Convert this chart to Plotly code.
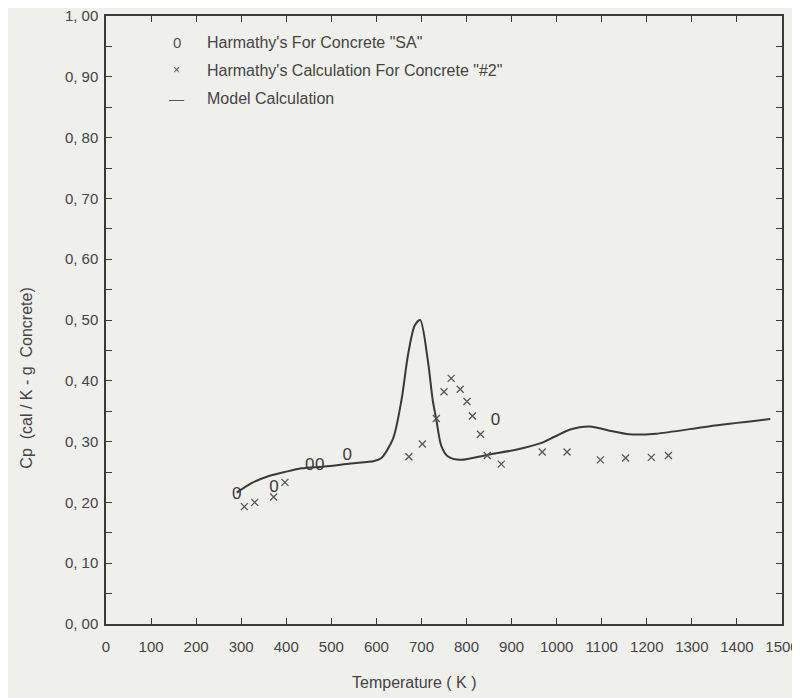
import plotly.graph_objects as go

# ---- data ----
model_T = [290, 324, 360, 397, 434, 485, 543, 595, 611, 637, 656, 670, 685, 697,
           714, 725, 733, 744, 758, 787, 845, 912, 963, 995, 1030, 1073, 1117, 1161,
           1220, 1337, 1474]
model_cp = [0.216, 0.232, 0.243, 0.250, 0.256, 0.259, 0.264, 0.268, 0.273, 0.305,
            0.370, 0.442, 0.491, 0.500, 0.434, 0.368, 0.336, 0.293, 0.276, 0.270,
            0.278, 0.287, 0.297, 0.308, 0.320, 0.325, 0.318, 0.312, 0.313, 0.325, 0.337]

sa_T = [290, 373, 452, 474, 535, 864]
sa_cp = [0.212, 0.224, 0.260, 0.260, 0.276, 0.334]

c2_T = [307, 330, 372, 397, 672, 702, 733, 750, 766, 786, 801, 813, 831, 846,
        877, 968, 1023, 1097, 1153, 1210, 1248]
c2_cp = [0.193, 0.200, 0.209, 0.233, 0.275, 0.296, 0.338, 0.382, 0.404, 0.386,
         0.366, 0.342, 0.312, 0.277, 0.263, 0.283, 0.283, 0.270, 0.273, 0.274, 0.277]

x_ticks = list(range(0, 1501, 100))
x_ticktext = [str(v) for v in x_ticks]
y_ticks = [0.0, 0.1, 0.2, 0.3, 0.4, 0.5, 0.6, 0.7, 0.8, 0.9, 1.0]
y_ticktext = ["0, 00", "0, 10", "0, 20", "0, 30", "0, 40", "0, 50", "0, 60", "0, 70",
              "0, 80", "0, 90", "1, 00"]

legend_labels = ["Harmathy's For Concrete \"SA\"",
                 "Harmathy's Calculation For Concrete \"#2\"",
                 "Model Calculation"]

INK = "#3a3a3a"
BG = "#efefec"
FONT = "Liberation Sans"

fig = go.Figure()
fig.add_trace(go.Scatter(x=model_T, y=model_cp, mode="lines",
                         line=dict(color=INK, width=2, shape="spline", smoothing=0.8),
                         showlegend=False))
fig.add_trace(go.Scatter(x=c2_T, y=c2_cp, mode="markers",
                         marker=dict(symbol="x-thin", size=7, line=dict(color="#555555", width=1.3)),
                         showlegend=False))
fig.add_trace(go.Scatter(x=sa_T, y=sa_cp, mode="text", text=["0"] * len(sa_T),
                         textfont=dict(family=FONT, size=17, color=INK),
                         showlegend=False))

# legend drawn as annotations
leg_y = [0.957, 0.911, 0.865]
leg_sym = ["0", "×", "—"]
leg_sym_size = [15, 12, 15]
for yy, sym, ss, lab in zip(leg_y, leg_sym, leg_sym_size, legend_labels):
    fig.add_annotation(xref="paper", yref="paper", x=0.105, y=yy, text=sym,
                       xanchor="center", yanchor="middle", showarrow=False,
                       font=dict(family=FONT, size=ss, color="#555"))
    fig.add_annotation(xref="paper", yref="paper", x=0.1465, y=yy, text=lab,
                       xanchor="left", yanchor="middle", showarrow=False,
                       font=dict(family=FONT, size=16, color="#444"))

# axis titles
fig.add_annotation(xref="paper", yref="paper", x=0.456, y=-0.097, text="Temperature ( K )",
                   showarrow=False, xanchor="center", yanchor="middle",
                   font=dict(family=FONT, size=16, color="#444"))
fig.add_annotation(xref="paper", yref="paper", x=-0.117, y=0.405,
                   text="Cp  (cal / K - g  Concrete)", textangle=-90,
                   showarrow=False, xanchor="center", yanchor="middle",
                   font=dict(family=FONT, size=16, color="#444"))

fig.update_layout(
    width=800, height=698,
    margin=dict(l=98, r=26, t=8, b=82),
    paper_bgcolor=BG, plot_bgcolor=BG,
    font=dict(family=FONT, size=15, color="#444"),
    showlegend=False,
)
fig.update_xaxes(range=[0, 1500], tickmode="array", tickvals=x_ticks, ticktext=x_ticktext,
                 ticks="inside", ticklen=6, tickcolor=INK, tickwidth=1.2,
                 showline=True, linecolor=INK, linewidth=1.5, mirror="ticks",
                 showgrid=False, zeroline=False, ticklabelstandoff=8,
                 automargin=False, ticklabeloverflow="allow",
                 tickfont=dict(family=FONT, size=15, color="#444"))
fig.update_yaxes(range=[0, 1.0], tickmode="array", tickvals=y_ticks, ticktext=y_ticktext,
                 ticks="inside", ticklen=6, tickcolor=INK, tickwidth=1.2,
                 minor=dict(dtick=0.05, ticks="inside", ticklen=6, tickcolor=INK, tickwidth=1.2),
                 showline=True, linecolor=INK, linewidth=1.5, mirror="ticks",
                 showgrid=False, zeroline=False, ticklabelstandoff=3,
                 automargin=False, ticklabeloverflow="allow",
                 tickfont=dict(family=FONT, size=15, color="#444"))

fig.write_html("out.html")
